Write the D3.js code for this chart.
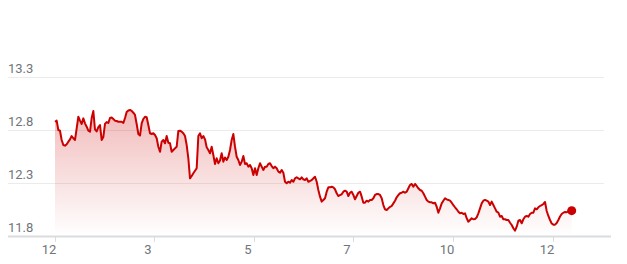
<!DOCTYPE html>
<html>
<head>
<meta charset="utf-8">
<script src="https://cdn.jsdelivr.net/npm/d3@7/dist/d3.min.js"></script>
<style>
  html, body { margin: 0; padding: 0; background: #fff; }
  svg { display: block; }
  text { font-family: Roboto, Arial, sans-serif; }
</style>
</head>
<body>
<svg id="chart" width="627" height="264"></svg>
<script>
// ---- data ----
const prices = [
12.878,12.888,12.800,12.793,12.706,12.658,12.652,12.665,12.690,12.712,
12.743,12.722,12.706,12.816,12.925,12.888,12.857,12.910,12.863,12.831,
12.793,12.784,12.913,12.979,12.805,12.786,12.828,12.847,12.706,12.734,
12.857,12.875,12.866,12.913,12.918,12.904,12.888,12.885,12.878,12.878,
12.878,12.866,12.913,12.970,12.984,12.989,12.981,12.963,12.942,12.857,
12.762,12.748,12.863,12.904,12.925,12.920,12.847,12.769,12.762,12.769,
12.753,12.722,12.642,12.595,12.690,12.706,12.675,12.743,12.680,12.675,
12.595,12.611,12.627,12.642,12.791,12.793,12.784,12.769,12.743,12.658,
12.533,12.344,12.366,12.392,12.416,12.439,12.743,12.769,12.722,12.743,
12.712,12.637,12.611,12.580,12.642,12.564,12.479,12.533,12.486,12.512,
12.580,12.501,12.541,12.517,12.548,12.611,12.706,12.762,12.642,12.548,
12.517,12.470,12.501,12.555,12.479,12.486,12.454,12.470,12.439,12.375,
12.439,12.375,12.439,12.486,12.454,12.423,12.454,12.454,12.479,12.486,
12.460,12.439,12.454,12.439,12.407,12.397,12.423,12.397,12.312,12.297,
12.312,12.303,12.328,12.312,12.344,12.354,12.344,12.335,12.354,12.335,
12.328,12.344,12.312,12.319,12.328,12.344,12.359,12.312,12.234,12.171,
12.124,12.140,12.156,12.218,12.259,12.259,12.265,12.259,12.241,12.203,
12.177,12.187,12.193,12.218,12.227,12.218,12.177,12.208,12.218,12.187,
12.146,12.177,12.208,12.218,12.171,12.114,12.114,12.133,12.124,12.140,
12.140,12.156,12.187,12.196,12.196,12.187,12.156,12.092,12.052,12.045,
12.061,12.074,12.083,12.108,12.133,12.165,12.187,12.203,12.208,12.218,
12.208,12.218,12.250,12.281,12.291,12.265,12.291,12.272,12.250,12.234,
12.227,12.203,12.171,12.140,12.124,12.118,12.118,12.108,12.114,12.076,
12.020,12.061,12.108,12.133,12.156,12.146,12.140,12.133,12.114,12.092,
12.071,12.052,12.029,12.014,12.020,12.008,12.014,11.967,11.935,11.951,
11.967,11.958,11.960,11.976,12.014,12.061,12.108,12.133,12.140,12.133,
12.124,12.092,12.124,12.092,12.061,12.029,12.020,11.982,11.989,11.958,
11.958,11.951,11.951,11.925,11.904,11.873,11.850,11.888,11.944,11.951,
11.920,11.958,11.982,11.989,11.982,12.008,12.020,12.020,12.061,12.052,
12.071,12.083,12.092,12.102,12.121,12.036,11.989,11.951,11.918,11.907,
11.907,11.923,11.951,11.984,12.008,12.020,12.026,12.024,12.033,12.039,
12.039
];
const yTicks = [11.8, 12.3, 12.8, 13.3];
const xTickIndex = [0, 59.4, 119.4, 178.8, 238.8, 298.8];
const xTickLabels = ["12", "3", "5", "7", "10", "12"];

// ---- chart ----
const svg = d3.select("#chart");
const red = "#cc0000";

const x = d3.scaleLinear().domain([0, prices.length - 1]).range([55, 571.7]);
const y = d3.scaleLinear().domain([11.8, 13.3]).range([236, 77]);

const defs = svg.append("defs");
const grad = defs.append("linearGradient")
  .attr("id", "fillGrad")
  .attr("gradientUnits", "userSpaceOnUse")
  .attr("x1", 0).attr("x2", 0)
  .attr("y1", y(13.0)).attr("y2", y(11.8));
grad.append("stop").attr("offset", "0%").attr("stop-color", red).attr("stop-opacity", 0.27);
grad.append("stop").attr("offset", "100%").attr("stop-color", red).attr("stop-opacity", 0.0);

// grid lines
svg.append("g").selectAll("line")
  .data(yTicks.filter(d => d !== 11.8))
  .join("line")
  .attr("x1", 8).attr("x2", 604)
  .attr("y1", d => Math.round(y(d)) + 0.5)
  .attr("y2", d => Math.round(y(d)) + 0.5)
  .attr("stroke", "#ebebeb")
  .attr("stroke-width", 1);

// y labels
svg.append("g").selectAll("text")
  .data(yTicks)
  .join("text")
  .attr("x", 8)
  .attr("y", d => y(d) - 4)
  .attr("fill", "#70757a")
  .attr("font-size", 13)
  .text(d => d.toFixed(1));

// area
const area = d3.area()
  .x((d, i) => x(i))
  .y0(y(11.8))
  .y1(d => y(d));
svg.append("path")
  .datum(prices)
  .attr("d", area)
  .attr("fill", "url(#fillGrad)");

// x axis line
svg.append("line")
  .attr("x1", 8).attr("x2", 611)
  .attr("y1", y(11.8) + 0.5).attr("y2", y(11.8) + 0.5)
  .attr("stroke", "#dadce0").attr("stroke-width", 2);

// ticks
const xt = svg.append("g");
xt.selectAll("line")
  .data(xTickIndex)
  .join("line")
  .attr("x1", d => Math.round(x(d)) + 0.5)
  .attr("x2", d => Math.round(x(d)) + 0.5)
  .attr("y1", y(11.8) + 1)
  .attr("y2", y(11.8) + 6)
  .attr("stroke", "#dadce0")
  .attr("stroke-width", 1);
xt.selectAll("text")
  .data(xTickIndex)
  .join("text")
  .attr("x", d => x(d) - 6)
  .attr("y", 254)
  .attr("text-anchor", "middle")
  .attr("fill", "#70757a")
  .attr("font-size", 13)
  .text((d, i) => xTickLabels[i]);

// line
const line = d3.line()
  .x((d, i) => x(i))
  .y(d => y(d));
svg.append("path")
  .datum(prices)
  .attr("d", line)
  .attr("fill", "none")
  .attr("stroke", red)
  .attr("stroke-width", 2)
  .attr("stroke-linejoin", "round");

// end dot
svg.append("circle")
  .attr("cx", x(prices.length - 1))
  .attr("cy", y(prices[prices.length - 1]))
  .attr("r", 4.5)
  .attr("fill", red);
</script>
</body>
</html>
